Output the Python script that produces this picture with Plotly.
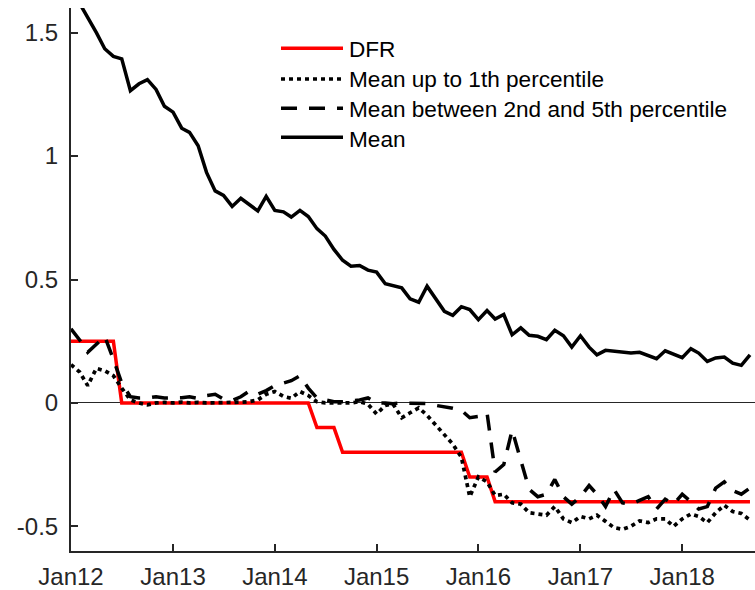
import plotly.graph_objects as go
import pandas as pd

# ---------------- data (monthly, Jan 2012 - Sep 2018) ----------------
start_month = "2012-01-01"
n_months = 81
months = pd.date_range(start_month, periods=n_months, freq="MS")

dfr = [0.25, 0.25, 0.25, 0.25, 0.25, 0.25,
       0.0, 0.0, 0.0, 0.0, 0.0, 0.0, 0.0, 0.0, 0.0, 0.0, 0.0, 0.0,
       0.0, 0.0, 0.0, 0.0, 0.0, 0.0, 0.0, 0.0, 0.0, 0.0, 0.0,
       -0.1, -0.1, -0.1,
       -0.2, -0.2, -0.2, -0.2, -0.2, -0.2, -0.2, -0.2, -0.2, -0.2,
       -0.2, -0.2, -0.2, -0.2, -0.2,
       -0.3, -0.3, -0.3,
       -0.4, -0.4, -0.4, -0.4, -0.4, -0.4, -0.4, -0.4, -0.4, -0.4,
       -0.4, -0.4, -0.4, -0.4, -0.4, -0.4, -0.4, -0.4, -0.4, -0.4,
       -0.4, -0.4, -0.4, -0.4, -0.4, -0.4, -0.4, -0.4, -0.4, -0.4, -0.4]

mean_p1 = [0.155, 0.125, 0.07, 0.14, 0.13, 0.11, 0.06, 0.012, 0.0, -0.008,
           0.0, 0.002, 0.0, 0.003, 0.0, 0.002, 0.0, 0.0, 0.002, 0.0,
           0.003, 0.005, 0.012, 0.035, 0.046, 0.026, 0.019, 0.046, 0.03, 0.005,
           0.0, 0.0, 0.0, 0.0, 0.005, -0.005, -0.045, -0.01, -0.005, -0.06,
           -0.04, -0.02, -0.05, -0.088, -0.13, -0.167, -0.22, -0.38, -0.30, -0.32,
           -0.375, -0.37, -0.405, -0.41, -0.445, -0.45, -0.455, -0.42, -0.47, -0.485,
           -0.46, -0.47, -0.455, -0.48, -0.505, -0.512, -0.50, -0.478, -0.485, -0.47,
           -0.47, -0.50, -0.47, -0.45, -0.46, -0.485, -0.445, -0.415, -0.44, -0.448,
           -0.475]

mean_p2_5 = [0.30, 0.255, 0.205, 0.24, 0.27, 0.177, 0.08, 0.025, 0.02, 0.02,
             0.025, 0.02, 0.02, 0.021, 0.025, 0.018, 0.03, 0.035, 0.015, 0.01,
             0.025, 0.048, 0.035, 0.05, 0.07, 0.08, 0.09, 0.11, 0.06, 0.02,
             0.012, 0.005, 0.005, 0.008, 0.012, 0.02, 0.0, 0.0, -0.003, 0.0,
             0.0, 0.0, -0.003, -0.01, -0.015, -0.022, -0.03, -0.06, -0.055, -0.04,
             -0.28, -0.25, -0.11, -0.23, -0.35, -0.38, -0.37, -0.31, -0.38, -0.41,
             -0.38, -0.335, -0.37, -0.42, -0.35, -0.405, -0.41, -0.395, -0.38, -0.43,
             -0.39, -0.41, -0.37, -0.40, -0.43, -0.42, -0.345, -0.32, -0.355, -0.37,
             -0.345]

mean_all = [1.68, 1.62, 1.56, 1.50, 1.435, 1.404, 1.394, 1.265, 1.293, 1.31,
            1.27, 1.202, 1.178, 1.113, 1.096, 1.042, 0.934, 0.859, 0.841, 0.796,
            0.829, 0.805, 0.778, 0.837, 0.78, 0.774, 0.753, 0.78, 0.755, 0.706,
            0.676, 0.622, 0.578, 0.554, 0.557, 0.538, 0.53, 0.483, 0.476, 0.466,
            0.422, 0.408, 0.473, 0.422, 0.371, 0.355, 0.39, 0.378, 0.337, 0.374,
            0.34, 0.358, 0.276, 0.304, 0.274, 0.27, 0.256, 0.294, 0.272, 0.226,
            0.272, 0.226, 0.195, 0.213, 0.209, 0.206, 0.202, 0.205, 0.192, 0.179,
            0.211, 0.199, 0.183, 0.22, 0.202, 0.168, 0.182, 0.186, 0.161, 0.152,
            0.195]

series_names = ["DFR", "Mean up to 1th percentile",
                "Mean between 2nd and 5th percentile", "Mean"]

x_tick_dates = ["2012-01-01", "2013-01-01", "2014-01-01", "2015-01-01",
                "2016-01-01", "2017-01-01", "2018-01-01"]
x_tick_labels = ["Jan12", "Jan13", "Jan14", "Jan15", "Jan16", "Jan17", "Jan18"]
y_tick_vals = [-0.5, 0, 0.5, 1, 1.5]
y_tick_labels = ["-0.5", "0", "0.5", "1", "1.5"]

# ---------------- styles ----------------
FONT = "Liberation Sans, Arial, Helvetica, sans-serif"
AX = "#262626"
LW = 3.5
styles = [
    dict(color="#ff0000", width=LW, dash="solid"),
    dict(color="#000000", width=LW + 0.2, dash="4px,4px"),
    dict(color="#000000", width=LW, dash="16px,12px"),
    dict(color="#000000", width=LW, dash="solid"),
]
all_series = [dfr, mean_p1, mean_p2_5, mean_all]

fig = go.Figure()
for name, ys, st in zip(series_names, all_series, styles):
    fig.add_trace(go.Scatter(x=months, y=ys, mode="lines", name=name,
                             line=st, showlegend=False))

# ---------------- manual legend (paper coordinates) ----------------
L, R, T, B = 71, 755, 8, 551
W, H = R - L, B - T
def px(xp):
    return (xp - L) / W
def py(yp):
    return (B - yp) / H

leg_line_y = [48.3, 79, 108.3, 137.3]
leg_text_y = [49.3, 79.5, 109.3, 139]
shapes = []
annots = []
for i, (name, st) in enumerate(zip(series_names, styles)):
    shapes.append(dict(type="line", xref="paper", yref="paper",
                       x0=px(281), x1=px(343), y0=py(leg_line_y[i]), y1=py(leg_line_y[i]),
                       line=dict(color=st["color"], width=st["width"], dash=st["dash"])))
    annots.append(dict(xref="paper", yref="paper", x=px(347), y=py(leg_text_y[i]),
                       xanchor="left", yanchor="middle", showarrow=False,
                       text=name, font=dict(family=FONT, size=22.6, color="#000000")))

fig.update_layout(
    width=755, height=590,
    margin=dict(l=L, r=755 - R, t=T, b=590 - B, autoexpand=False),
    plot_bgcolor="white", paper_bgcolor="white",
    font=dict(family=FONT, size=24, color=AX),
    shapes=shapes, annotations=annots,
    showlegend=False,
)
fig.update_xaxes(range=["2012-01-01", "2018-09-19"], tickvals=x_tick_dates,
                 ticktext=x_tick_labels, ticks="inside", ticklen=7, tickwidth=1.5,
                 tickcolor=AX, showline=True, linecolor=AX, linewidth=2,
                 showgrid=False, zeroline=False, ticklabelstandoff=3,
                 automargin=False)
fig.update_yaxes(range=[-0.6, 1.6], tickvals=y_tick_vals, ticktext=y_tick_labels,
                 ticks="inside", ticklen=7, tickwidth=1.5, tickcolor=AX,
                 showline=True, linecolor=AX, linewidth=2, showgrid=False,
                 zeroline=True, zerolinecolor=AX, zerolinewidth=1,
                 ticklabelstandoff=6, automargin=False)

fig.write_html("out.html", config={"displayModeBar": False},
               post_script="document.body.style.margin='0';document.body.style.overflow='hidden';")
